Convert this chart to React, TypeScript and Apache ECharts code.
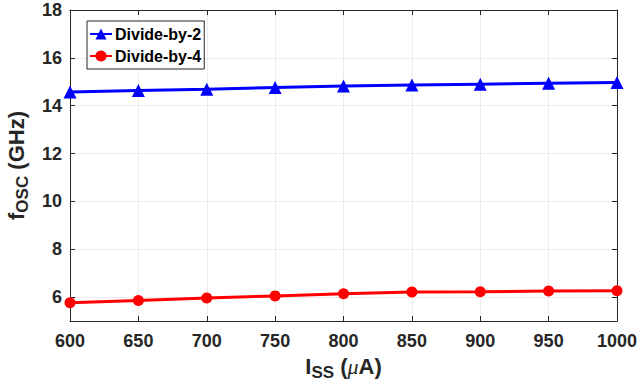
import React, { useEffect, useRef } from "react";
import * as echarts from "echarts";

const currents = [600, 650, 700, 750, 800, 850, 900, 950, 1000];
const divideBy2 = [14.57, 14.63, 14.69, 14.76, 14.82, 14.86, 14.9, 14.94, 14.97];
const divideBy4 = [5.76, 5.86, 5.96, 6.05, 6.14, 6.21, 6.22, 6.25, 6.26];
const yTicks = [6, 8, 10, 12, 14, 16, 18];
const xTicks = [600, 650, 700, 750, 800, 850, 900, 950, 1000];

const FONT = "'Liberation Sans', Arial, sans-serif";
const TXT = "#262626";

export default function App() {
  const ref = useRef<HTMLDivElement>(null);
  useEffect(() => {
    document.body.style.margin = "0";
    const chart = echarts.init(ref.current!, null, { renderer: "svg" });
    const tickLabel = { color: TXT, fontFamily: FONT, fontWeight: "bold" as const, fontSize: 18 };
    const main = { fontFamily: FONT, fontWeight: "bold" as const, fontSize: 22, color: TXT, lineHeight: 30 };
    const sub = { fontFamily: FONT, fontWeight: "bold" as const, fontSize: 17, color: TXT, padding: [12, 0, 0, 0] };
    chart.setOption({
      animation: false,
      backgroundColor: "#ffffff",
      grid: { left: 70, right: 20, top: 10, bottom: 70, outerBoundsMode: "none", containLabel: false },
      legend: {
        orient: "vertical",
        left: 87,
        top: 21,
        backgroundColor: "#ffffff",
        borderColor: TXT,
        borderWidth: 1,
        borderRadius: 0,
        padding: [5, 3, 5, 2],
        itemGap: 6,
        itemWidth: 22,
        itemHeight: 14,
        textStyle: { color: "#000", fontFamily: FONT, fontWeight: "bold", fontSize: 16, padding: [0, 0, 0, -2] },
        data: ["Divide-by-2", "Divide-by-4"],
      },
      xAxis: [
        {
          type: "value",
          min: 600,
          max: 1000,
          interval: 50,
          axisLine: { show: true, lineStyle: { color: TXT, width: 1 } },
          axisTick: { show: true, inside: true, length: 5, lineStyle: { color: TXT } },
          axisLabel: { ...tickLabel, margin: 11, customValues: xTicks, formatter: (v: number) => String(v) },
          splitLine: { show: true, lineStyle: { color: "#ebebeb", width: 1 } },
          name: "{m|I}{s|SS}{m| (}{mu|μ}{m|A)}",
          nameLocation: "middle",
          nameGap: 30,
          nameTextStyle: {
            rich: {
              m: main,
              s: sub,
              mu: { ...main, fontFamily: "'Liberation Serif', serif", fontWeight: "normal", fontStyle: "italic" },
            },
          },
        },
        {
          type: "value",
          position: "top",
          min: 600,
          max: 1000,
          interval: 50,
          axisLine: { show: true, lineStyle: { color: TXT, width: 1 } },
          axisTick: { show: true, inside: true, length: 5, lineStyle: { color: TXT } },
          axisLabel: { show: false },
          splitLine: { show: false },
        },
      ],
      yAxis: [
        {
          type: "value",
          min: 5,
          max: 18,
          axisLine: { show: true, lineStyle: { color: TXT, width: 1 } },
          axisTick: { show: true, inside: true, length: 5, lineStyle: { color: TXT }, customValues: yTicks },
          axisLabel: { ...tickLabel, margin: 8, customValues: yTicks },
          splitLine: { show: true, lineStyle: { color: "#ebebeb", width: 1 } },
          name: "{m|f}{s|OSC}{m| (GHz)}",
          nameLocation: "middle",
          nameGap: 36,
          nameTextStyle: { rich: { m: main, s: sub } },
        },
        {
          type: "value",
          position: "right",
          min: 5,
          max: 18,
          axisLine: { show: true, lineStyle: { color: TXT, width: 1 } },
          axisTick: { show: true, inside: true, length: 5, lineStyle: { color: TXT }, customValues: yTicks },
          axisLabel: { show: false, customValues: yTicks },
          splitLine: { show: false },
        },
      ],
      series: [
        {
          name: "Divide-by-2",
          type: "line",
          data: currents.map((c, i) => [c, divideBy2[i]]),
          symbol: "triangle",
          symbolSize: 13,
          lineStyle: { color: "#0000ff", width: 3 },
          itemStyle: { color: "#0000ff" },
          z: 3,
        },
        {
          name: "Divide-by-4",
          type: "line",
          data: currents.map((c, i) => [c, divideBy4[i]]),
          symbol: "circle",
          symbolSize: 11,
          lineStyle: { color: "#ff0000", width: 3 },
          itemStyle: { color: "#ff0000" },
          z: 3,
        },
      ],
    });
    return () => chart.dispose();
  }, []);
  return <div ref={ref} style={{ width: 637, height: 391, position: "absolute", left: 0, top: 0 }} />;
}
